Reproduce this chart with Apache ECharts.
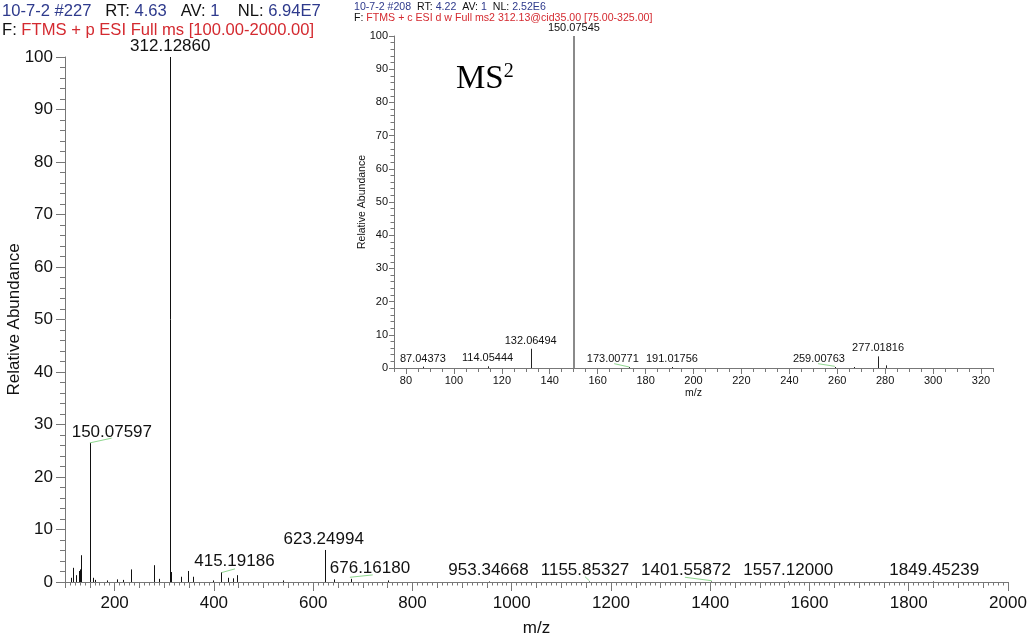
<!DOCTYPE html>
<html>
<head>
<meta charset="utf-8">
<script src="https://cdn.jsdelivr.net/npm/echarts@6/dist/echarts.min.js"></script>
<style>
  html, body { margin: 0; padding: 0; background: #fff; }
  #chart { width: 1028px; height: 638px; }
</style>
</head>
<body>
<div id="chart"></div>
<script>
// full MS scan, m/z and relative abundance (%)
var mainMz = [112, 117, 122, 128, 130, 133, 150.07597, 156, 160, 184, 204, 217, 232, 280, 289,
  312.12860, 314, 333, 348, 357, 399, 415.19186, 429, 438, 446, 539, 623.24994, 641, 676.16180,
  750, 953.34668, 1155.85327, 1401.55872, 1557.12000, 1849.45239];
var mainAbund = [0.8, 2.7, 1.3, 2.1, 2.4, 5.1, 26.5, 0.8, 0.4, 0.3, 0.5, 0.4, 2.4, 3.2, 0.6,
  100, 1.9, 1.0, 2.1, 1.0, 0.3, 1.85, 0.8, 0.7, 1.3, 0.3, 6.1, 0.5, 0.6,
  0.3, 0.1, 0.1, 0.1, 0.1, 0.1];
var mainLabelMz = [150.07597, 312.12860, 415.19186, 623.24994, 676.16180, 953.34668,
  1155.85327, 1401.55872, 1557.12000, 1849.45239];

// MS2 of 312.13
var ms2Mz = [87.04373, 114.05444, 132.06494, 150.07545, 173.00771, 191.01756, 259.00763, 267, 277.01816, 280.3];
var ms2Abund = [0.4, 0.5, 5.8, 100, 0.3, 0.3, 0.3, 0.3, 3.5, 0.8];
var ms2LabelMz = [87.04373, 114.05444, 132.06494, 150.07545, 173.00771, 191.01756, 259.00763, 277.01816];

// green label leader lines (data space)
var mainLeaders = [[[150.1, 26.5], [194, 27.4]], [[415.7, 1.8], [442.5, 2.5]], [[674, 0.9], [720, 1.35]],
  [[1147.8, 1.0], [1156.4, 0.25]], [[1349, 0.9], [1403, 0.25]]];
var ms2Leaders = [[[166.9, 1.3], [173.2, 0.3]], [[252, 1.3], [259, 0.5]]];

var mainTicks = [200, 400, 600, 800, 1000, 1200, 1400, 1600, 1800, 2000];
var ms2Ticks = [80, 100, 120, 140, 160, 180, 200, 220, 240, 260, 280, 300, 320];

// label nudges in px (layout only)
var mainLabelDx = [22, 0, 13, -1, 19, 0, -4, -25, 0, 1];
var ms2LabelDx = [0, 0, 0, 0, -16, 0, -16, 0];

var FONT = 'Liberation Sans';
var BLUE = '#2e3a8c';
var RED = '#d42a30';

function pairs(xs, ys) {
  return xs.map(function (x, i) { return [x, ys[i]]; });
}
function abundOf(xs, ys, mz) {
  return ys[xs.indexOf(mz)];
}
function plain(v) { return String(v); }

function stickSeries(xi, yi, data, color, width) {
  return {
    type: 'custom',
    xAxisIndex: xi, yAxisIndex: yi,
    silent: true,
    data: data,
    renderItem: function (params, api) {
      var p0 = api.coord([api.value(0), 0]);
      var p1 = api.coord([api.value(0), api.value(1)]);
      var x = Math.round(p0[0]) + (width % 2 ? 0.5 : 0);
      return {
        type: 'line',
        shape: { x1: x, y1: p0[1], x2: x, y2: p1[1] },
        style: { stroke: color, lineWidth: width }
      };
    }
  };
}

function leaderSeries(xi, yi, segs) {
  return {
    type: 'custom',
    xAxisIndex: xi, yAxisIndex: yi,
    silent: true,
    data: segs.map(function (s) { return [s[0][0], s[0][1], s[1][0], s[1][1]]; }),
    renderItem: function (params, api) {
      var a = api.coord([api.value(0), api.value(1)]);
      var b = api.coord([api.value(2), api.value(3)]);
      return {
        type: 'line',
        shape: { x1: a[0], y1: a[1], x2: b[0], y2: b[1] },
        style: { stroke: '#8fd68f', lineWidth: 1 }
      };
    }
  };
}

function labelSeries(xi, yi, xs, ys, labs, dx, size, dist) {
  return {
    type: 'scatter',
    xAxisIndex: xi, yAxisIndex: yi,
    silent: true,
    symbolSize: 1,
    itemStyle: { color: 'rgba(0,0,0,0)', opacity: 1 },
    data: labs.map(function (mz) { return [mz, abundOf(xs, ys, mz)]; }),
    label: {
      show: true,
      position: 'top',
      distance: dist,
      fontFamily: FONT,
      fontSize: size,
      color: '#111',
      opacity: 1,
      formatter: function (p) { return p.value[0].toFixed(5); }
    },
    labelLayout: function (params) {
      return { dx: dx[params.dataIndex], hideOverlap: false };
    },
    z: 5
  };
}

var chart = echarts.init(document.getElementById('chart'), null, { renderer: 'canvas' });

function richSet(size, lh) {
  var base = { fontSize: size, fontFamily: FONT, fontWeight: 'normal', lineHeight: lh };
  return {
    b: Object.assign({ color: BLUE }, base),
    k: Object.assign({ color: '#111' }, base),
    r: Object.assign({ color: RED }, base)
  };
}

var option = {
  animation: false,
  backgroundColor: '#fff',
  textStyle: { fontFamily: FONT },
  title: [
    {
      left: 2, top: 2, padding: 0,
      text: '{b|10-7-2 #227}   {k|RT:} {b|4.63}   {k|AV:} {b|1}    {k|NL:} {b|6.94E7}\n{k|F:} {r|FTMS + p ESI Full ms [100.00-2000.00]}',
      textStyle: { fontWeight: 'normal', fontSize: 16.6, lineHeight: 19, fontFamily: FONT, color: '#111',
        rich: richSet(16.6, 19) }
    },
    {
      left: 354, top: 1, padding: 0,
      text: '{b|10-7-2 #208}  {k|RT:} {b|4.22}  {k|AV:} {b|1}  {k|NL:} {b|2.52E6}\n{k|F:} {r|FTMS + c ESI d w Full ms2 312.13@cid35.00 [75.00-325.00]}',
      textStyle: { fontWeight: 'normal', fontSize: 10.6, lineHeight: 11.5, fontFamily: FONT, color: '#111',
        rich: richSet(10.6, 11.5) }
    },
    {
      left: 456, top: 62, padding: 0,
      text: '{m|MS}{s|2}',
      textStyle: {
        fontWeight: 'normal', fontSize: 33, lineHeight: 34,
        rich: {
          m: { color: '#000', fontSize: 33, fontFamily: 'Liberation Serif', fontWeight: 'normal', lineHeight: 34 },
          s: { color: '#000', fontSize: 20, fontFamily: 'Liberation Serif', fontWeight: 'normal', lineHeight: 34, verticalAlign: 'top' }
        }
      }
    }
  ],
  grid: [
    { left: 65, right: 20, top: 57, bottom: 56, containLabel: false, outerBoundsMode: 'none' },
    { left: 394, right: 35, top: 36, bottom: 270, containLabel: false, outerBoundsMode: 'none',
      backgroundColor: '#fff', show: true, borderWidth: 0 }
  ],
  xAxis: [
    {
      gridIndex: 0, type: 'value', position: 'bottom', min: 100, max: 2000, interval: 50,
      name: 'm/z', nameLocation: 'middle', nameGap: 38, nameMoveOverlap: false,
      nameTextStyle: { fontSize: 17, color: '#111', fontFamily: FONT },
      axisLine: { lineStyle: { color: '#777', width: 1 } },
      axisTick: { customValues: mainTicks, length: 9, lineStyle: { color: '#777' } },
      axisLabel: { customValues: mainTicks, formatter: plain, fontSize: 17, color: '#111', margin: 13, fontFamily: FONT },
      splitLine: { show: false }
    },
    {
      gridIndex: 0, type: 'value', position: 'bottom', min: 100, max: 2000, interval: 50,
      axisLine: { show: false },
      axisTick: { length: 6, lineStyle: { color: '#777' } },
      minorTick: { show: true, splitNumber: 5, length: 3.5, lineStyle: { color: '#777' } },
      axisLabel: { show: false },
      splitLine: { show: false }
    },
    {
      gridIndex: 1, type: 'value', position: 'bottom', min: 75, max: 325, interval: 5,
      name: 'm/z', nameLocation: 'middle', nameGap: 20, nameMoveOverlap: false,
      nameTextStyle: { fontSize: 10.5, color: '#111', fontFamily: FONT },
      axisLine: { lineStyle: { color: '#777', width: 1 } },
      axisTick: { customValues: ms2Ticks, length: 6, lineStyle: { color: '#777' } },
      axisLabel: { customValues: ms2Ticks, formatter: plain, fontSize: 11, color: '#111', margin: 7, fontFamily: FONT },
      splitLine: { show: false }
    },
    {
      gridIndex: 1, type: 'value', position: 'bottom', min: 75, max: 325, interval: 5,
      axisLine: { show: false },
      axisTick: { length: 4, lineStyle: { color: '#777' } },
      axisLabel: { show: false },
      splitLine: { show: false }
    }
  ],
  yAxis: [
    {
      gridIndex: 0, type: 'value', min: 0, max: 100, interval: 10,
      name: 'Relative Abundance', nameLocation: 'middle', nameGap: 42, nameMoveOverlap: false,
      nameTextStyle: { fontSize: 17, color: '#111', fontFamily: FONT },
      axisLine: { show: true, lineStyle: { color: '#777' } },
      axisTick: { show: true, length: 9, lineStyle: { color: '#777' } },
      minorTick: { show: true, splitNumber: 5, length: 5, lineStyle: { color: '#777' } },
      axisLabel: { fontSize: 17, color: '#111', margin: 12, fontFamily: FONT },
      splitLine: { show: false }
    },
    {
      gridIndex: 1, type: 'value', min: 0, max: 100, interval: 10,
      name: 'Relative Abundance', nameLocation: 'middle', nameGap: 26, nameMoveOverlap: false,
      nameTextStyle: { fontSize: 10.5, color: '#111', fontFamily: FONT },
      axisLine: { show: true, lineStyle: { color: '#777' } },
      axisTick: { show: true, length: 5, lineStyle: { color: '#777' } },
      minorTick: { show: true, splitNumber: 5, length: 3.5, lineStyle: { color: '#777' } },
      axisLabel: { fontSize: 11, color: '#111', margin: 6, fontFamily: FONT },
      splitLine: { show: false }
    }
  ],
  series: [
    stickSeries(0, 0, pairs(mainMz, mainAbund), '#111', 1),
    leaderSeries(0, 0, mainLeaders),
    labelSeries(0, 0, mainMz, mainAbund, mainLabelMz, mainLabelDx, 17, 2),
    stickSeries(2, 1, pairs(ms2Mz, ms2Abund).filter(function (d) { return d[1] < 50; }), '#222', 1),
    stickSeries(2, 1, pairs(ms2Mz, ms2Abund).filter(function (d) { return d[1] >= 50; }), '#8a8a8a', 2),
    leaderSeries(2, 1, ms2Leaders),
    labelSeries(2, 1, ms2Mz, ms2Abund, ms2LabelMz, ms2LabelDx, 11, 2)
  ]
};

chart.setOption(option);
window.onresize = chart.resize;
</script>
</body>
</html>
